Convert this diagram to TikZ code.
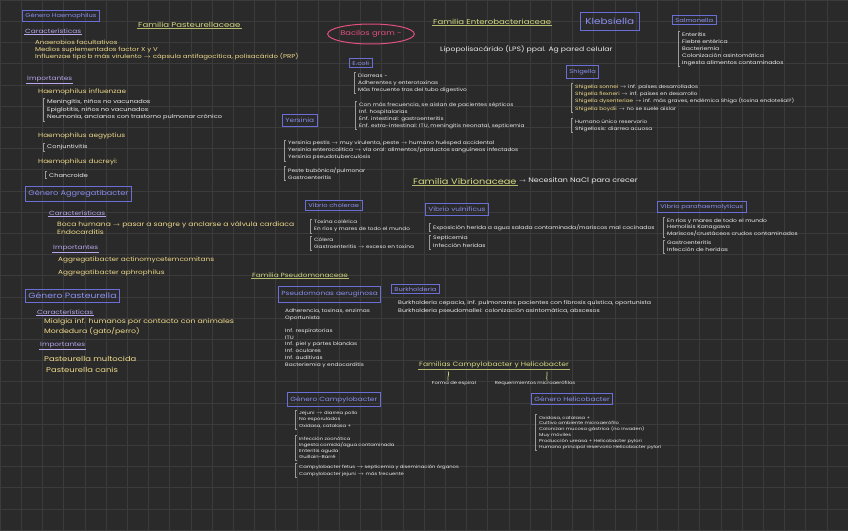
\documentclass[tikz,border=0pt]{standalone}
\usepackage{fontspec}
\setmainfont{Poppins}[FakeStretch=1.22]
\usetikzlibrary{shapes.geometric}
\definecolor{bg}{HTML}{2A2A2A}
\definecolor{gridc}{HTML}{3B3B3B}
\definecolor{boxb}{HTML}{6A6FD8}
\definecolor{boxt}{HTML}{8C8FF2}
\definecolor{yel}{HTML}{F2DC8C}
\definecolor{ttlc}{HTML}{D6DB82}
\definecolor{purp}{HTML}{B9A8EE}
\definecolor{wht}{HTML}{EDEDED}
\definecolor{pinkc}{HTML}{E2507E}
\definecolor{brc}{HTML}{9A9A9A}
\newcommand{\fz}[2]{\fontsize{#1}{#2}\selectfont}
\newcommand{\brak}[1]{\draw[brk] ([xshift=-2pt,yshift=1pt]#1.north west) -- ([xshift=-4pt,yshift=1pt]#1.north west) -- ([xshift=-4pt,yshift=-1pt]#1.south west) -- ([xshift=-2pt,yshift=-1pt]#1.south west);}
\newcommand{\uln}[2]{\draw[#2] (#1.south west) -- (#1.south east);}
\tikzset{
 box/.style={draw=boxb, line width=0.9pt, text=boxt, inner xsep=3pt, inner ysep=2.5pt, anchor=west, font=\fz{5.5}{6.5}},
 ttl/.style={text=ttlc, inner sep=1pt, anchor=west, font=\fz{7}{8}},
 ul/.style={draw=ttlc!85!black, line width=0.9pt},
 hd/.style={text=purp, inner sep=1pt, anchor=west, font=\fz{6}{7}},
 hul/.style={draw=purp, line width=0.6pt},
 ytx/.style={text=yel, inner sep=0pt, anchor=west, align=left, font=\fz{5.5}{7}},
 wtx/.style={text=wht, inner sep=0pt, anchor=west, align=left, font=\fz{4.8}{7}},
 brk/.style={draw=brc, line width=0.6pt},
 conn/.style={draw=ttlc, line width=0.7pt},
}
\begin{document}
\begin{tikzpicture}[x=1pt,y=-1pt]
\useasboundingbox (0,0) rectangle (848,530);
\fill[bg] (0,0) rectangle (848,530);
\foreach \i in {0,...,40} {\draw[gridc, line width=0.6pt] ({\i*21.2},0) -- ({\i*21.2},530);}
\foreach \j in {0,...,25} {\draw[gridc, line width=0.6pt] (0,{\j*21.2}) -- (848,{\j*21.2});}

% ---------- left column ----------
\node[box] (hae) at (22,16) {Género Haemophilus};
\node[ttl] (fpast) at (137,25) {Familia Pasteurellaceae}; \uln{fpast}{ul}
\node[hd] (car1) at (24,31) {Características}; \uln{car1}{hul}
\node[ytx, font=\fz{5.7}{7}] (y1) at (35,50) {Anaerobios facultativos\\Medios suplementados factor X y V\\Influenzae tipo b más virulento $\rightarrow$ cápsula antifagocítica, polisacárido (PRP)};
\node[hd] (imp1) at (26,79) {Importantes}; \uln{imp1}{hul}
\node[ytx, font=\fz{6}{7}] (hinf) at (38,92) {Haemophilus influenzae};
\node[wtx, font=\fz{5.4}{7.4}] (w1) at (47,110) {Meningitis, niños no vacunados\\Epiglotitis, niños no vacunados\\Neumonía, ancianos con trastorno pulmonar crónico}; \brak{w1}
\node[ytx, font=\fz{6}{7}] (haeg) at (38,136) {Haemophilus aegyptius};
\node[wtx, font=\fz{5.4}{7}] (w2) at (47,147) {Conjuntivitis}; \brak{w2}
\node[ytx, font=\fz{6}{7}] (hduc) at (38,162) {Haemophilus ducreyi:};
\node[wtx, font=\fz{5.4}{7}] (w3) at (49,175) {Chancroide}; \brak{w3}

\node[box, font=\fz{6.7}{8}, inner ysep=4pt] (agg) at (25,194) {Género Aggregatibacter};
\node[hd] (car2) at (48,213) {Características}; \uln{car2}{hul}
\node[ytx, font=\fz{6.2}{8}] (y2) at (57,228) {Boca humana $\rightarrow$ pasar a sangre y anclarse a válvula cardiaca\\Endocarditis};
\node[hd] (imp2) at (52,248) {Importantes}; \uln{imp2}{hul}
\node[ytx, font=\fz{6}{13}] (y3) at (58,266.5) {Aggregatibacter actinomycetemcomitans\\Aggregatibacter aphrophilus};

\node[box, font=\fz{7.6}{8}, inner ysep=3.5pt] (pas) at (25,296) {Género Pasteurella};
\node[hd] (car3) at (36,312) {Características}; \uln{car3}{hul}
\node[ytx, font=\fz{6.4}{10}] (y4) at (44,327) {Mialgia inf. humanos por contacto con animales\\Mordedura (gato/perro)};
\node[hd] (imp3) at (39,345) {Importantes}; \uln{imp3}{hul}
\node[ytx, font=\fz{6.9}{11}] (y5) at (44,364.5) {Pasteurella multocida\\\hspace*{2pt}Pasteurella canis};

% ---------- Enterobacteriaceae ----------
\node[ellipse, draw=pinkc, line width=1pt, minimum width=76pt, minimum height=20pt, inner sep=0pt, text=pinkc, font=\fz{6.8}{8}] (bac) at (371,34) {Bacilos gram -};
\node[ttl, font=\fz{7}{8}] (fent) at (432,22) {Familia Enterobacteriaceae}; \uln{fent}{ul}
\node[wtx, font=\fz{6.3}{7}] (lps) at (440,49) {Lipopolisacárido (LPS) ppal. Ag pared celular};
\node[box] (ecoli) at (349,63) {E.coli};
\node[wtx] (e1) at (358,83) {Diarreas -\\Adherentes y enterotoxinas\\Más frecuente tras del tubo digestivo}; \brak{e1}
\node[wtx] (e2) at (359,115.5) {Con más frecuencia, se aislan de pacientes sépticos\\Inf. hospitalarias\\Enf. intestinal: gastroenteritis\\Enf. extra-intestinal: ITU, meningitis neonatal, septicemia}; \brak{e2}
\node[box, font=\fz{6}{7}, inner ysep=3.5pt] (yer) at (282,120.5) {Yersinia};
\node[wtx] (ye1) at (288,150.5) {Yersinia pestis $\rightarrow$ muy virulenta, peste $\rightarrow$ humano huésped accidental\\Yersinia enterocolitica $\rightarrow$ vía oral: alimentos/productos sanguíneos infectados\\Yersinia pseudotuberculosis}; \brak{ye1}
\node[wtx] (ye2) at (288,173.5) {Peste bubónica/pulmonar\\Gastroenteritis}; \brak{ye2}

\node[box, font=\fz{8.5}{9}, inner ysep=6pt, inner xsep=5pt] (kleb) at (580,21.5) {Klebsiella};
\node[box] (salm) at (672,20) {Salmonella};
\node[wtx, font=\fz{5}{7}] (sa1) at (682,49) {Enteritis\\Fiebre entérica\\Bacteriemia\\Colonización asintomática\\Ingesta alimentos contaminados}; \brak{sa1}
\node[box, inner ysep=3.5pt] (shig) at (566,72) {Shigella};
\node[wtx, font=\fz{4.7}{7.2}] (sh1) at (575,98) {\textcolor{yel}{Shigella sonnei} $\rightarrow$ inf. países desarrollados\\\textcolor{yel}{Shigella flexneri} $\rightarrow$ inf. países en desarrollo\\\textcolor{yel}{Shigella dysenteriae} $\rightarrow$ inf. más graves, endémica Shiga (toxina endotelial?)\\\textcolor{yel}{Shigella boydii} $\rightarrow$ no se suele aislar}; \brak{sh1}
\node[wtx, font=\fz{4.7}{7}] (sh2) at (575,125.5) {Humano único reservorio\\Shigellosis: diarrea acuosa}; \brak{sh2}

% ---------- Vibrionaceae ----------
\node[ttl, font=\fz{8}{9}] (fvib) at (412,181) {Familia Vibrionaceae}; \uln{fvib}{ul}
\node[wtx, font=\fz{6.5}{7}, anchor=west] (nacl) at ([xshift=1pt]fvib.east) {$\rightarrow$ Necesitan NaCl para crecer};
\node[box] (vcho) at (305,205.5) {Vibrio cholerae};
\node[wtx, font=\fz{4.7}{6.5}] (vc1) at (314,226) {Toxina colérica\\En ríos y mares de todo el mundo}; \brak{vc1}
\node[wtx, font=\fz{4.7}{7.5}] (vc2) at (314,243) {Cólera\\Gastroenteritis $\rightarrow$ exceso en toxina}; \brak{vc2}
\node[box, font=\fz{6}{7}, inner ysep=3.5pt] (vvul) at (425,209.5) {Vibrio vulnificus};
\node[wtx, font=\fz{5}{7}] (vv1) at (433,227.5) {Exposición herida a agua salada contaminada/mariscos mal cocinados}; \brak{vv1}
\node[wtx, font=\fz{5}{8}] (vv2) at (433,242) {Septicemia\\Infección heridas}; \brak{vv2}
\node[box] (vpar) at (657,207) {Vibrio parahaemolyticus};
\node[wtx, font=\fz{4.9}{5.8}] (vp1) at (667,227.5) {En ríos y mares de todo el mundo\\Hemolisis Kanagawa\\Mariscos/crustáceos crudos contaminados}; \brak{vp1}
\node[wtx, font=\fz{4.9}{7}] (vp2) at (667,246.5) {Gastroenteritis\\Infección de heridas}; \brak{vp2}

% ---------- Pseudomonaceae ----------
\node[ttl, font=\fz{6}{7}] (fpse) at (251,275) {Familia Pseudomonaceae}; \uln{fpse}{ul}
\node[box, font=\fz{6}{7}, inner ysep=4.5pt] (paer) at (278,294.5) {Pseudomonas aeruginosa};
\node[wtx, font=\fz{4.8}{6.5}] (pa1) at (285,315) {Adherencia, toxinas, enzimas\\Oportunista};
\node[wtx, font=\fz{4.8}{6.8}] (pa2) at (285,348) {Inf. respiratorias\\ITU\\Inf. piel y partes blandas\\Inf. oculares\\Inf. auditivas\\Bacteriemia y endocarditis};
\node[box] (burk) at (391,289) {Burkholderia};
\node[wtx, font=\fz{5.1}{8}] (bu1) at (398,307) {Burkholderia cepacia, inf. pulmonares pacientes con fibrosis quística, oportunista\\Burkholderia pseudomallei: colonización asintomática, abscesos};

% ---------- Campylobacter / Helicobacter ----------
\node[ttl, font=\fz{6.2}{7}] (fcam) at (418,365) {Familias Campylobacter y Helicobacter}; \uln{fcam}{ul}
\node[wtx, font=\fz{4.3}{5}, anchor=center] (esp) at (454,383) {Forma de espiral};
\node[wtx, font=\fz{4.3}{5}, anchor=center] (req) at (535,383) {Requerimientos microaerófilos};
\coordinate (c1) at (448,371.5);
\coordinate (c2) at (547,371.5);
\draw[conn] (c1) .. controls (450,374) and (447,376) .. (c1 |- esp.north);
\draw[conn] (c2) .. controls (548,374) and (546,376) .. (c2 |- req.north);
\node[box, font=\fz{6}{7}, inner ysep=3.5pt] (camp) at (287,399.5) {Género Campylobacter};
\node[wtx, font=\fz{4.3}{6.5}] (ca1) at (299,419.5) {Jejuni $\rightarrow$ diarrea pollo\\No esporulados\\Oxidasa, catalasa +}; \brak{ca1}
\node[wtx, font=\fz{4.3}{6.2}] (ca2) at (299,448) {Infección zoonótica\\Ingesta comida/agua contaminada\\Enteritis aguda\\Guillain-Barré}; \brak{ca2}
\node[wtx, font=\fz{4.3}{7}] (ca3) at (299,470.5) {Campylobacter fetus $\rightarrow$ septicemia y diseminación órganos\\Campylobacter jejuni $\rightarrow$ más frecuente}; \brak{ca3}
\node[box, font=\fz{6}{7}, inner ysep=3.5pt] (heli) at (531,399) {Género Helicobacter};
\node[wtx, font=\fz{4.2}{5.8}] (he1) at (539,432.5) {Oxidasa, catalasa +\\Cultivo ambiente microaerófilo\\Colonizan mucosa gástrica (no invaden)\\Muy móviles\\Producción ureasa + Helicobacter pylori\\Humano principal reservorio Helicobacter pylori}; \brak{he1}
\end{tikzpicture}
\end{document}
